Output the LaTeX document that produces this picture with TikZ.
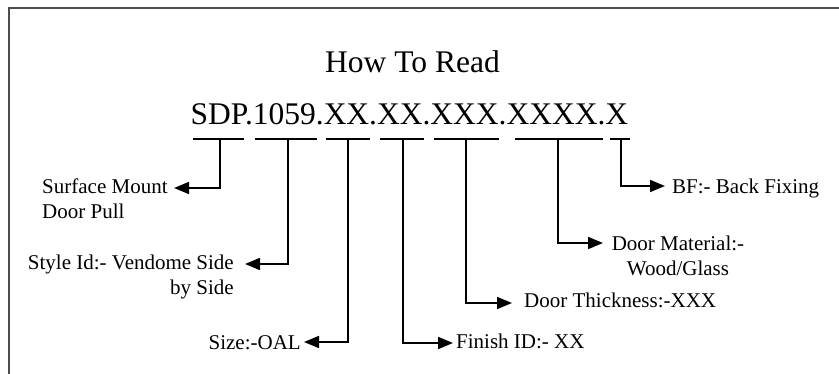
\documentclass[tikz,border=0pt]{standalone}
\usepackage{fontspec}
\setmainfont{Liberation Serif}
\usetikzlibrary{arrows.meta}
\tikzset{
  frameline/.style={draw=black!70, line width=1.3pt},
  bigtext/.style={inner sep=0pt, font=\fontsize{31.5}{36}\selectfont},
  lbl/.style={inner sep=0pt, font=\fontsize{21}{25}\selectfont},
  uline/.style={line width=1.8pt},
  conn/.style={line width=1.7pt, -{Triangle[length=15pt,width=12pt]}},
}
\begin{document}
\begin{tikzpicture}[x=1pt,y=-1pt]
\useasboundingbox (0,0) rectangle (839,374);
% frame
\draw[frameline] (9,374) -- (9,8) -- (839,8);
% texts
\node[bigtext, anchor=base] (title) at (412.5,73) {How To Read};
\node[bigtext, anchor=base west] (code) at (190.5,125) {SDP.1059.XX.XX.XXX.XXXX.X};
% underline segments
\coordinate (a1) at (193,139); \coordinate (b1) at (244,139); \coordinate (u1) at (220,139);
\coordinate (a2) at (255,139); \coordinate (b2) at (317,139); \coordinate (u2) at (288,139);
\coordinate (a3) at (326,139); \coordinate (b3) at (370,139); \coordinate (u3) at (348,139);
\coordinate (a4) at (380,139); \coordinate (b4) at (424,139); \coordinate (u4) at (403,139);
\coordinate (a5) at (434,139); \coordinate (b5) at (499,139); \coordinate (u5) at (466,139);
\coordinate (a6) at (515,139); \coordinate (b6) at (603,139); \coordinate (u6) at (558,139);
\coordinate (a7) at (610,139); \coordinate (b7) at (630,139); \coordinate (u7) at (621,139);
\foreach \i in {1,...,7} {\draw[uline] (a\i) -- (b\i);}
% arrow tips
\coordinate (t1) at (174,188);
\coordinate (t2) at (245,264);
\coordinate (t3) at (304,342);
\coordinate (t4) at (453,343);
\coordinate (t5) at (512,303);
\coordinate (t6) at (603,243);
\coordinate (t7) at (665,186);
% labels
\node[lbl, anchor=base west] (l1) at (42,194) {\begin{tabular}[t]{@{}l@{}}Surface Mount\\Door Pull\end{tabular}};
\node[lbl, anchor=base east] (l2) at (234,270) {\begin{tabular}[t]{@{}r@{}}Style Id:- Vendome Side\\by Side\end{tabular}};
\node[lbl, anchor=base east] (l3) at (301,350) {Size:-OAL};
\node[lbl, anchor=base west] (l4) at (456,349) {Finish ID:- XX};
\node[lbl, anchor=base west] (l5) at (524,308) {Door Thickness:-XXX};
\node[lbl, anchor=base] (l6) at (678,251) {\begin{tabular}[t]{@{}c@{}}Door Material:-\\Wood/Glass\end{tabular}};
\node[lbl, anchor=base west] (l7) at (672,194) {BF:- Back Fixing};
% connectors
\foreach \i in {1,...,7} {\draw[conn] (u\i) |- (t\i);}
\end{tikzpicture}
\end{document}
